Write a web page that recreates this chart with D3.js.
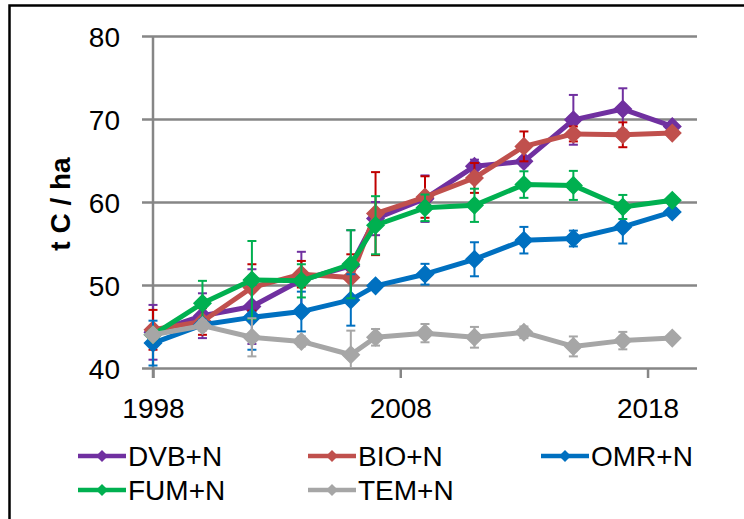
<!DOCTYPE html>
<html>
<head>
<meta charset="utf-8">
<script src="https://cdn.jsdelivr.net/npm/d3@7/dist/d3.min.js"></script>
<style>
  html, body { margin: 0; padding: 0; background: #ffffff; }
  svg { display: block; }
  text { font-family: "Liberation Sans", Arial, sans-serif; fill: #000; }
</style>
</head>
<body>
<svg id="chart" width="744" height="519"></svg>
<script>
// Sampling years
const years = [1998, 2000, 2002, 2004, 2006, 2007, 2009, 2011, 2013, 2015, 2017, 2019];

// Soil carbon stock (t C / ha) per treatment, with error (±)
const dvbValues = [44.3, 46.3, 47.4, 50.6, 52.3, 58.0, 60.4, 64.3, 64.9, 69.9, 71.2, 69.1];
const dvbErrors = [3.3, 2.7, 4.5, 3.4, 4.3, 2.0, 2.8, 0.8, 0.5, 3.0, 2.5, 0];
const bioValues = [44.6, 45.6, 49.7, 51.3, 50.9, 58.6, 60.6, 62.9, 66.7, 68.2, 68.1, 68.3];
const bioErrors = [2.4, 1.6, 2.8, 1.6, 2.8, 5.0, 2.5, 1.8, 1.8, 0.9, 1.5, 0];
const omrValues = [43.0, 45.2, 46.1, 46.8, 48.2, 49.9, 51.3, 53.1, 55.4, 55.6, 57.0, 58.8];
const omrErrors = [2.7, 0.6, 3.9, 2.4, 3.1, 0.5, 1.25, 2.05, 1.6, 0.95, 2.0, 0];
const fumValues = [44.0, 47.8, 50.6, 50.5, 52.5, 57.2, 59.3, 59.6, 62.1, 62.0, 59.4, 60.2];
const fumErrors = [0.5, 2.7, 4.7, 2.0, 4.1, 3.5, 1.6, 2.0, 1.6, 1.75, 1.45, 0];
const temValues = [44.0, 45.1, 43.7, 43.2, 41.6, 43.7, 44.2, 43.7, 44.3, 42.6, 43.3, 43.6];
const temErrors = [0.5, 0.6, 2.3, 0.6, 2.9, 1.0, 1.1, 1.25, 0.7, 1.2, 1.05, 0];

const seriesNames = ["DVB+N", "BIO+N", "OMR+N", "FUM+N", "TEM+N"];
const lineColors  = ["#7030A0", "#C0504D", "#0070C0", "#00B050", "#A6A6A6"];
const errColors   = ["#7030A0", "#C00000", "#0070C0", "#00B050", "#A6A6A6"];

const yTicks = [40, 50, 60, 70, 80];
const xTicks = [1998, 2008, 2018];
const yTitle = "t C / ha";

const series = [
  { name: seriesNames[0], values: dvbValues, errors: dvbErrors },
  { name: seriesNames[1], values: bioValues, errors: bioErrors },
  { name: seriesNames[2], values: omrValues, errors: omrErrors },
  { name: seriesNames[3], values: fumValues, errors: fumErrors },
  { name: seriesNames[4], values: temValues, errors: temErrors }
];

const svg = d3.select("#chart");
const gridColor = "#868686";

// outer chart frame
svg.append("rect")
  .attr("x", 9.5).attr("y", 5.5)
  .attr("width", 760).attr("height", 540)
  .attr("fill", "none").attr("stroke", "#000").attr("stroke-width", 2.5);

const plot = { left: 153, right: 697, top: 36, bottom: 368 };
const x = d3.scaleLinear().domain([1998, 2020]).range([plot.left, plot.right]);
const y = d3.scaleLinear().domain([40, 80]).range([plot.bottom, plot.top]);

// horizontal gridlines with outside tick stubs
const yAxis = svg.append("g")
  .attr("transform", `translate(${plot.left},0)`)
  .call(d3.axisLeft(y).tickValues(yTicks).tickSize(-(plot.right - plot.left)).tickSizeOuter(0).tickPadding(33));
yAxis.select(".domain").remove();
yAxis.selectAll(".tick line")
  .attr("x1", -11)
  .attr("stroke", gridColor).attr("stroke-width", 2.5);
yAxis.selectAll(".tick text")
  .attr("font-size", 28).attr("font-family", "Liberation Sans, Arial, sans-serif")
  .attr("fill", "#000").attr("dy", "0.36em");

// vertical axis line
svg.append("line")
  .attr("x1", plot.left).attr("x2", plot.left)
  .attr("y1", plot.top).attr("y2", plot.bottom + 10)
  .attr("stroke", gridColor).attr("stroke-width", 2.5);

// x axis ticks and labels
const xAxis = svg.append("g")
  .attr("transform", `translate(0,${plot.bottom})`)
  .call(d3.axisBottom(x).tickValues(xTicks).tickFormat(d3.format("d")).tickSize(10).tickSizeOuter(0).tickPadding(20));
xAxis.select(".domain").remove();
xAxis.selectAll(".tick line").attr("stroke", gridColor).attr("stroke-width", 2.5);
xAxis.selectAll(".tick text")
  .attr("font-size", 28).attr("font-family", "Liberation Sans, Arial, sans-serif")
  .attr("fill", "#000").attr("dy", "0.71em");

// y axis title
svg.append("text")
  .attr("transform", `translate(70,204) rotate(-90)`)
  .attr("text-anchor", "middle")
  .attr("font-size", 28).attr("font-weight", "bold")
  .text(yTitle);

// clip for error bars
svg.append("clipPath").attr("id", "plotClip")
  .append("rect")
  .attr("x", plot.left - 20).attr("y", plot.top)
  .attr("width", plot.right - plot.left + 40).attr("height", plot.bottom - plot.top);

const diamond = d3.symbol().type(d3.symbolSquare).size(144);
const line = d3.line().x(d => x(d.year)).y(d => y(d.value));
const capHalf = 4.5;

series.forEach((s, si) => {
  const pts = years.map((yr, i) => ({ year: yr, value: s.values[i], err: s.errors[i] }));
  const g = svg.append("g").attr("class", "series");

  // error bars
  const eb = g.append("g").attr("clip-path", "url(#plotClip)")
    .attr("stroke", errColors[si]).attr("stroke-width", 2).attr("fill", "none");
  pts.filter(p => p.err > 0).forEach(p => {
    const cx = x(p.year), yt = y(p.value + p.err), yb = y(p.value - p.err);
    eb.append("line").attr("x1", cx).attr("x2", cx).attr("y1", yt).attr("y2", yb);
    eb.append("line").attr("x1", cx - capHalf).attr("x2", cx + capHalf).attr("y1", yt).attr("y2", yt);
    eb.append("line").attr("x1", cx - capHalf).attr("x2", cx + capHalf).attr("y1", yb).attr("y2", yb);
  });

  // line
  g.append("path").datum(pts)
    .attr("d", line)
    .attr("fill", "none").attr("stroke", lineColors[si])
    .attr("stroke-width", 5).attr("stroke-linejoin", "round");

  // diamond markers
  g.selectAll("path.marker").data(pts).enter().append("path")
    .attr("class", "marker")
    .attr("d", diamond)
    .attr("transform", d => `translate(${x(d.year)},${y(d.value)}) rotate(45)`)
    .attr("fill", lineColors[si]).attr("stroke", lineColors[si]).attr("stroke-width", 1.5);
});

// legend
const legendPos = [
  { x: 78, y: 456 }, { x: 308, y: 456 }, { x: 541, y: 456 },
  { x: 78, y: 490 }, { x: 308, y: 490 }
];
const legendDiamond = d3.symbol().type(d3.symbolSquare).size(72);
series.forEach((s, si) => {
  const p = legendPos[si];
  const lg = svg.append("g").attr("transform", `translate(${p.x},${p.y})`);
  lg.append("line").attr("x1", 0).attr("x2", 48).attr("y1", 0).attr("y2", 0)
    .attr("stroke", lineColors[si]).attr("stroke-width", 4.5);
  lg.append("path").attr("d", legendDiamond)
    .attr("transform", "translate(24,0) rotate(45)")
    .attr("fill", lineColors[si]);
  lg.append("text").attr("x", 50).attr("y", 0).attr("dy", "0.36em")
    .attr("font-size", 28).text(s.name);
});
</script>
</body>
</html>
